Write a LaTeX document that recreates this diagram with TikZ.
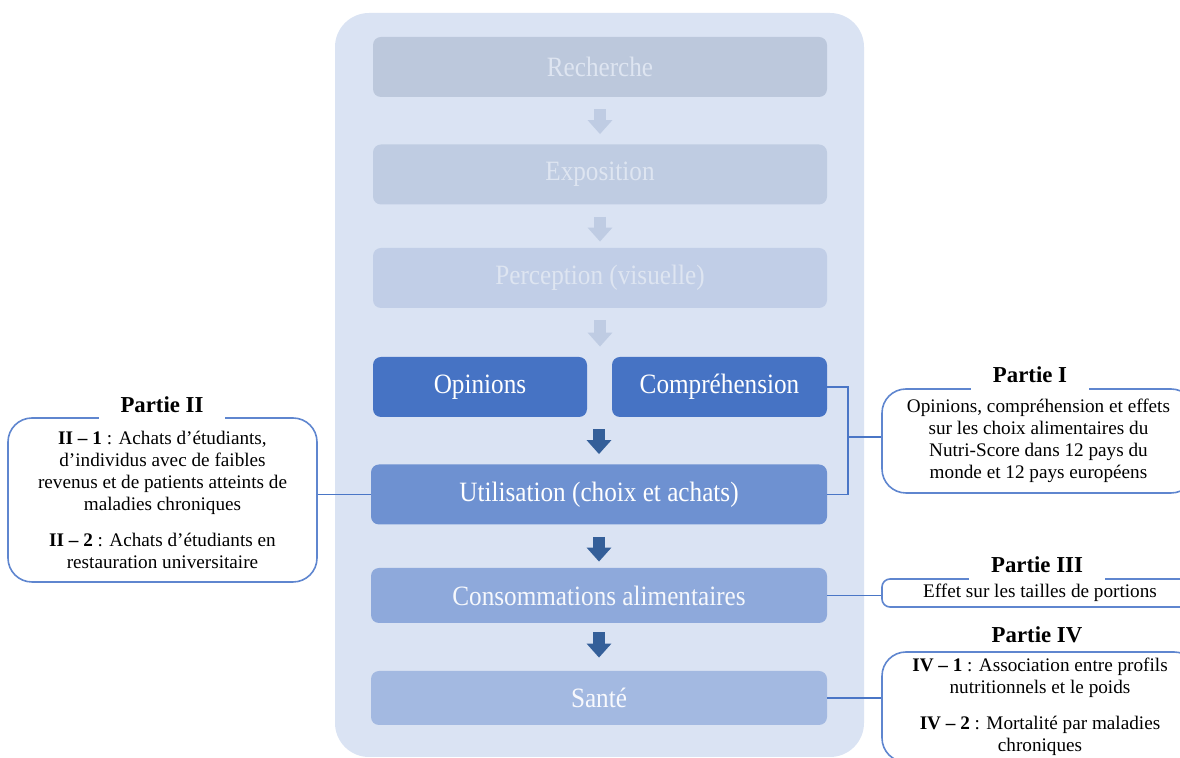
\documentclass[tikz,border=0pt]{standalone}
\usepackage{fontspec}
\setmainfont{Liberation Serif}
\newfontfamily\boxfont[FakeStretch=0.9]{Liberation Serif}
\usetikzlibrary{arrows.meta}

\definecolor{panel}{HTML}{DAE3F3}
\definecolor{fadeA}{HTML}{BCC8DC}
\definecolor{fadeB}{HTML}{BFCCE2}
\definecolor{fadeC}{HTML}{C1CEE7}
\definecolor{fadetext}{HTML}{DEE5F1}
\definecolor{fadearrow}{HTML}{BFCCE3}
\definecolor{strong}{HTML}{4673C4}
\definecolor{strongarrow}{HTML}{345F99}
\definecolor{useblue}{HTML}{6E91D1}
\definecolor{consblue}{HTML}{8EA9DB}
\definecolor{healthblue}{HTML}{A3B9E1}
\definecolor{linkblue}{HTML}{4A76C6}
\definecolor{sideline}{HTML}{5F86CF}

\tikzset{
  stage/.style={rounded corners=4pt, minimum width=227pt, minimum height=30pt,
    inner sep=0pt, align=center, text=white, font=\boxfont\fontsize{14}{16}\selectfont},
  faded/.style={stage, text=fadetext},
  blockarr/.style={line width=6pt, -{Triangle[width=12pt,length=7pt]},
    shorten <=6pt, shorten >=5pt},
  link/.style={draw=linkblue, line width=0.8pt},
  sidebox/.style={draw=sideline, line width=0.8pt, align=center, inner sep=0pt,
    font=\fontsize{9.6}{11}\selectfont},
  parttitle/.style={fill=white, anchor=base, inner xsep=11pt, inner ysep=4pt,
    font=\fontsize{11.4}{13}\selectfont\bfseries}
}

\begin{document}
\begin{tikzpicture}[x=0.5pt,y=-0.5pt]
\useasboundingbox (0,0) rectangle (1180,758);

% background panel
\fill[panel, rounded corners=17pt] (335,13) rectangle (864,757);

% stages
\node[faded, fill=fadeA] (rech) at (600,67) {Recherche};
\node[faded, fill=fadeB] (expo) at (600,174.5) {Exposition};
\node[faded, fill=fadeC] (perc) at (600,278) {Perception (visuelle)};
\node[stage, fill=strong, minimum width=107pt] (opin) at (480,387) {Opinions};
\node[stage, fill=strong, minimum width=107.5pt] (comp) at (719.5,387) {Compréhension};
\node[stage, fill=useblue, minimum width=228pt] (util) at (599,494.5) {Utilisation (choix et achats)};
\node[stage, fill=consblue, minimum width=228pt, minimum height=27.5pt, text=white!92!consblue] (cons) at (599,595.5) {Consommations alimentaires};
\node[stage, fill=healthblue, minimum width=228pt, minimum height=27pt, text=white!92!healthblue] (sante) at (599,698) {Santé};

% arrows
\draw[blockarr, fadearrow] (rech.south) -- (expo.north);
\draw[blockarr, fadearrow, shorten >=3pt] (expo.south) -- (perc.north);
\draw[blockarr, fadearrow] (perc.south) -- (perc.south |- opin.north);
\draw[blockarr, strongarrow] (util.north |- opin.south) -- (util.north);
\draw[blockarr, strongarrow, shorten >=3pt] (util.south) -- (cons.north);
\draw[blockarr, strongarrow, shorten <=4.5pt, shorten >=6.5pt] (cons.south) -- (sante.north);

% side boxes
\node[sidebox, rounded corners=12pt, minimum width=156.5pt, minimum height=52pt] (p1) at (1038.5,441) {Opinions, compréhension et effets\\sur les choix alimentaires du\\Nutri-Score dans 12 pays du\\monde et 12 pays européens};
\node[sidebox, rounded corners=12pt, minimum width=154.5pt, minimum height=82pt] (p2) at (162.5,500) {\textbf{II – 1} : Achats d'étudiants,\\d'individus avec de faibles\\revenus et de patients atteints de\\maladies chroniques\\[7pt]\textbf{II – 2} : Achats d'étudiants en\\restauration universitaire};
\node[sidebox, rounded corners=4pt, minimum width=158pt, minimum height=14pt] (p3) at (1040,593) {Effet sur les tailles de portions};
\node[sidebox, rounded corners=12pt, minimum width=158pt, minimum height=55pt] (p4) at (1040,707) {\textbf{IV – 1} : Association entre profils\\nutritionnels et le poids\\[7pt]\textbf{IV – 2} : Mortalité par maladies\\chroniques};

\node[parttitle] (t1) at (1030,383) {Partie I};
\node[parttitle] (t2) at (162,413) {Partie II};
\node[parttitle] (t3) at (1037,573) {Partie III};
\node[parttitle] (t4) at (1037,643) {Partie IV};

% connectors
\coordinate (brk) at (848,437);
\draw[link] (comp.east) -| (brk) |- (util.east);
\draw[link] (brk) -- (brk -| p1.west);
\draw[link] (util.west) -- (util.west -| p2.east);
\draw[link] (cons.east) -- (cons.east -| p3.west);
\draw[link] (sante.east) -- (sante.east -| p4.west);

\end{tikzpicture}
\end{document}
